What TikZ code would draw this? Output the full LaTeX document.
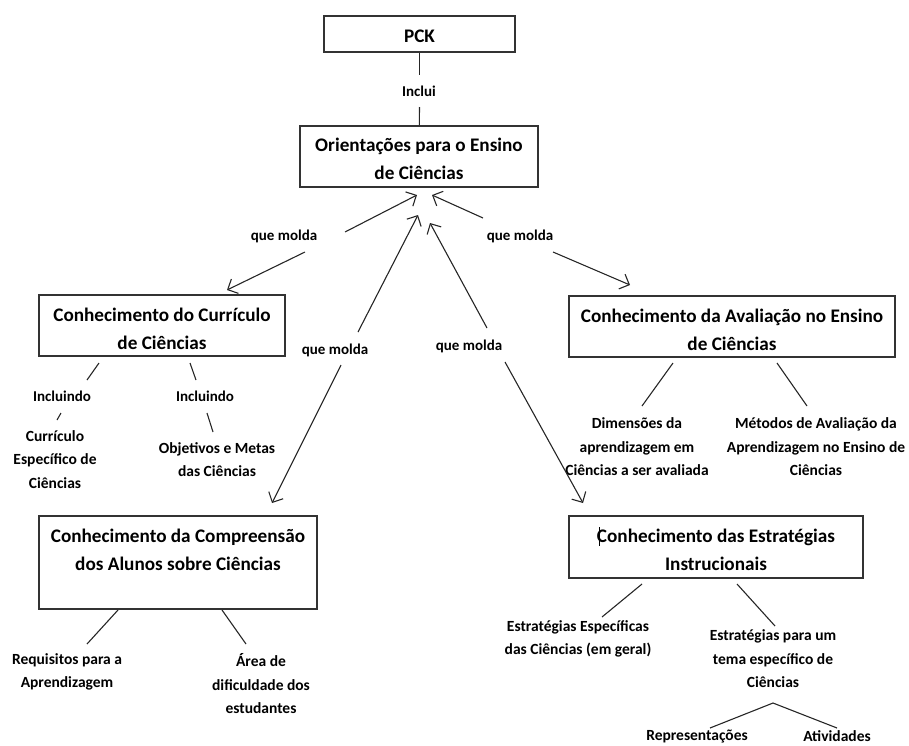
\documentclass[tikz,border=0pt]{standalone}
\usepackage{fontspec}
\setmainfont{Carlito}
\usetikzlibrary{arrows.meta}
\begin{document}
\begin{tikzpicture}[x=1pt,y=-1pt,
  box/.style={draw=black!80, line width=1.4pt, inner sep=0pt},
  boxtext/.style={align=center, inner sep=0pt, font=\fontsize{19.2}{28}\selectfont\bfseries},
  leaf/.style={align=center, inner sep=0pt, font=\fontsize{15.5}{23.5}\selectfont\bfseries},
  lab/.style={inner sep=0pt, font=\fontsize{15}{17}\selectfont\bfseries},
  conn/.style={line width=1.1pt, black!85},
  arr/.style={conn, -{Straight Barb[length=8pt,width=16pt,line width=1.1pt]}}]
\useasboundingbox (0,0) rectangle (909,745);
% boxes
\node[box, minimum width=191, minimum height=36] (pck) at (419.5,34) {};
\node[boxtext] (pckt) at (419.5,36) {PCK};
\node[box, minimum width=238, minimum height=61] (ori) at (419,156.5) {};
\node[boxtext] (orit) at (419,159) {Orientações para o Ensino\\de Ciências};
\node[box, minimum width=246, minimum height=61] (cur) at (162,325.5) {};
\node[boxtext] (curt) at (162,329) {Conhecimento do Currículo\\de Ciências};
\node[box, minimum width=326, minimum height=61] (ava) at (732,326.5) {};
\node[boxtext] (avat) at (732,330) {Conhecimento da Avaliação no Ensino\\de Ciências};
\node[box, minimum width=278, minimum height=93] (comp) at (178,562.5) {};
\node[boxtext] (compt) at (178,550) {Conhecimento da Compreensão\\dos Alunos sobre Ciências};
\node[box, minimum width=294, minimum height=62] (est) at (716,547) {};
\node[boxtext] (estt) at (716,550) {Conhecimento das Estratégias\\Instrucionais};
\draw[line width=0.8pt] (599,527) -- (599,546);
% labels
\node[lab] (inc) at (419,91) {Inclui};
\node[lab] (qmL) at (284,236) {que molda};
\node[lab] (qmR) at (520,236) {que molda};
\node[lab] (qmML) at (335,350) {que molda};
\node[lab] (qmMR) at (469,346) {que molda};
\node[lab] (incL) at (62,396) {Incluindo};
\node[lab] (incR) at (205,396) {Incluindo};
% leaves
\node[leaf] (cec) at (55,459.5) {Currículo\\Específico de\\Ciências};
\node[leaf] (obj) at (217,459.5) {Objetivos e Metas\\das Ciências};
\node[leaf] (dim) at (637,447) {Dimensões da\\aprendizagem em\\Ciências a ser avaliada};
\node[leaf] (met) at (816,447) {Métodos de Avaliação da\\Aprendizagem no Ensino de\\Ciências};
\node[leaf] (req) at (67,672) {Requisitos para a\\Aprendizagem};
\node[leaf] (are) at (261,684) {Área de\\dificuldade dos\\estudantes};
\node[leaf] (eesp) at (578,639) {Estratégias Específicas\\das Ciências (em geral)};
\node[leaf] (etem) at (773,659) {Estratégias para um\\tema específico de\\Ciências};
\node[leaf] (rep) at (697,736) {Representações};
\node[leaf] (ati) at (837,736.5) {Atividades};
% PCK - Orientações
\coordinate (i1) at (419.5,75);
\coordinate (i2) at (419.5,107);
\draw[conn] (pck) -- (i1);
\draw[conn] (i2) -- (ori);
% que molda arrows
\coordinate (aL1) at (345,232); \coordinate (aL2) at (417,195);
\coordinate (aL3) at (305,252); \coordinate (aL4) at (227,290);
\draw[arr] (aL1) -- (aL2); \draw[arr] (aL3) -- (aL4);
\coordinate (aR1) at (483,218); \coordinate (aR2) at (432,195);
\coordinate (aR3) at (553,252); \coordinate (aR4) at (630,285);
\draw[arr] (aR1) -- (aR2); \draw[arr] (aR3) -- (aR4);
\coordinate (aM1) at (358,332); \coordinate (aM2) at (418,215);
\coordinate (aM3) at (341,365); \coordinate (aM4) at (272,503);
\draw[arr] (aM1) -- (aM2); \draw[arr] (aM3) -- (aM4);
\coordinate (aN1) at (487,328); \coordinate (aN2) at (430,223);
\coordinate (aN3) at (505,362); \coordinate (aN4) at (583,503);
\draw[arr] (aN1) -- (aN2); \draw[arr] (aN3) -- (aN4);
% Currículo branches
\coordinate (c1) at (99,363); \coordinate (c2) at (87,380);
\coordinate (c3) at (61,413); \coordinate (c4) at (57,420);
\draw[conn] (c1) -- (c2); \draw[conn] (c3) -- (c4);
\coordinate (d1) at (190,363); \coordinate (d2) at (196,380);
\coordinate (d3) at (207,413); \coordinate (d4) at (213,432);
\draw[conn] (d1) -- (d2); \draw[conn] (d3) -- (d4);
% Avaliação branches
\coordinate (v1) at (673,363); \coordinate (v2) at (642,406);
\coordinate (v3) at (777,363); \coordinate (v4) at (807,406);
\draw[conn] (v1) -- (v2); \draw[conn] (v3) -- (v4);
% Compreensão branches
\coordinate (p1) at (118,610); \coordinate (p2) at (87,644);
\coordinate (p3) at (222,610); \coordinate (p4) at (246,644);
\draw[conn] (p1) -- (p2); \draw[conn] (p3) -- (p4);
% Estratégias branches
\coordinate (e1) at (642,584); \coordinate (e2) at (602,617);
\coordinate (e3) at (737,584); \coordinate (e4) at (775,626);
\draw[conn] (e1) -- (e2); \draw[conn] (e3) -- (e4);
\coordinate (t0) at (773,703); \coordinate (t1) at (710,728); \coordinate (t2) at (837,728);
\draw[conn] (t1) -- (t0) -- (t2);
\end{tikzpicture}
\end{document}
